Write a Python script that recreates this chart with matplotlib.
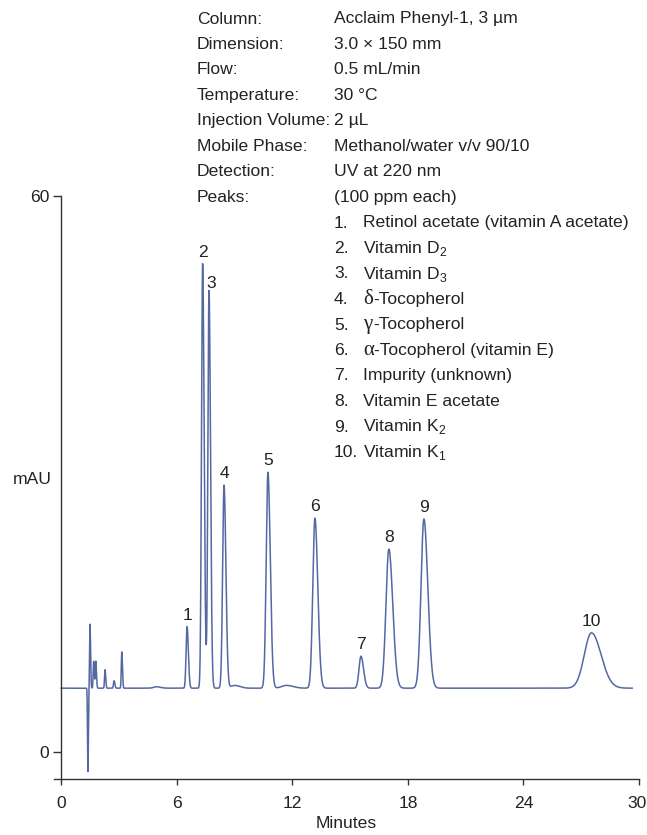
import numpy as np
import matplotlib
matplotlib.use('Agg')
import matplotlib.pyplot as plt
from matplotlib.transforms import ScaledTranslation

plt.rcParams['font.family'] = ['Liberation Sans Narrow', 'Liberation Sans', 'DejaVu Sans']
plt.rcParams['mathtext.fontset'] = 'custom'
plt.rcParams['mathtext.rm'] = 'Liberation Sans'

# method conditions
info_keys = ['Column:', 'Dimension:', 'Flow:', 'Temperature:', 'Injection Volume:',
             'Mobile Phase:', 'Detection:', 'Peaks:']
info_values = ['Acclaim Phenyl-1, 3 \u00b5m', '3.0 \u00d7 150 mm', '0.5 mL/min', '30 \u00b0C',
               '2 \u00b5L', 'Methanol/water v/v 90/10', 'UV at 220 nm', '(100 ppm each)']

# peak table: id, name, retention time (min), height above baseline (mAU), width (min)
peak_ids = ['1', '2', '3', '4', '5', '6', '7', '8', '9', '10']
peak_greek = ['', '', '', '\u03b4', '\u03b3', '\u03b1', '', '', '', '']
peak_names = ['Retinol acetate (vitamin A acetate)', 'Vitamin D$_\\mathregular{2}$',
              'Vitamin D$_\\mathregular{3}$', '-Tocopherol', '-Tocopherol',
              '-Tocopherol (vitamin E)', 'Impurity (unknown)', 'Vitamin E acetate',
              'Vitamin K$_\\mathregular{2}$', 'Vitamin K$_\\mathregular{1}$']
peak_times = [6.53, 7.34, 7.67, 8.45, 10.73, 13.17, 15.56, 17.01, 18.83, 27.53]
peak_heights = [6.65, 45.8, 42.9, 21.9, 23.3, 18.35, 3.45, 15.0, 18.25, 5.97]
peak_widths = [0.05, 0.058, 0.058, 0.072, 0.09, 0.11, 0.10, 0.15, 0.15, 0.37]

# injection upset, early solvent peaks and baseline bumps
minor_times = [1.38, 1.49, 1.68, 1.79, 2.27, 2.74, 3.14, 4.95, 9.0, 11.7]
minor_heights = [-9.0, 6.9, 2.9, 2.9, 2.0, 0.8, 3.9, 0.15, 0.3, 0.3]
minor_widths = [0.02, 0.022, 0.025, 0.025, 0.025, 0.03, 0.025, 0.15, 0.2, 0.25]

baseline = 6.9
run_end = 29.65
tailing = 1.35

t = np.arange(0, run_end, 0.002)
signal = np.full_like(t, baseline)
for tr, h, w in zip(peak_times + minor_times, peak_heights + minor_heights,
                    peak_widths + minor_widths):
    s = np.where(t < tr, w, w * tailing)
    signal += h * np.exp(-0.5 * ((t - tr) / s) ** 2)

W, H = 647, 835
fig = plt.figure(figsize=(W / 100, H / 100), dpi=100)
ax = fig.add_axes([53.6 / W, 56 / H, (639 - 53.6) / W, (779 - 196) / H])

line_color = '#5468a2'
ink = '#222222'
fs = 12.6
ax.plot(t, signal, color=line_color, lw=1.1)

ax.set_xlim(-0.4, 30)
ax.set_ylim(-2.9, 60)
ax.spines['top'].set_visible(False)
ax.spines['right'].set_visible(False)
ax.spines['left'].set_position(('data', 0))
for sp in ['left', 'bottom']:
    ax.spines[sp].set_color('#333333')
    ax.spines[sp].set_linewidth(1.0)
ax.set_xticks([0, 6, 12, 18, 24, 30])
ax.set_yticks([0, 60])
ax.tick_params(axis='x', length=4.5, width=1.0, color='#333333', labelsize=fs,
               labelcolor=ink, pad=8)
ax.tick_params(axis='y', length=5.5, width=1.0, color='#333333', labelsize=fs,
               labelcolor=ink, pad=3)
ax.set_xlabel('Minutes', fontsize=fs, color=ink, labelpad=3)
fig.text(32 / W, 1 - 480 / H, 'mAU', fontsize=fs, color=ink, ha='center', va='center')

# keep the last tick label inside the figure
last = ax.get_xticklabels()[-1]
last.set_ha('right')
last.set_transform(last.get_transform() + ScaledTranslation(0.08, 0, fig.dpi_scale_trans))

# peak numbers above each peak
label_dx = [0, 0, 1.5, 0, 0, 0, 0, 0, 0, 0]
label_dy = [5, 5, 2, 5, 5, 5, 5, 5, 5, 5]
for pid, tr, h, dx, dy in zip(peak_ids, peak_times, peak_heights, label_dx, label_dy):
    ax.annotate(pid, (tr, baseline + h), xytext=(dx, dy), textcoords='offset points',
                ha='center', va='baseline', fontsize=fs, color=ink)

# conditions block
def fx(px):
    return px / W

def fy(py):
    return 1 - py / H

row0 = 23.5
step = 25.5
for i, (k, v) in enumerate(zip(info_keys, info_values)):
    y = row0 + i * step
    fig.text(fx(197), fy(y), k, fontsize=fs, color=ink, va='baseline')
    fig.text(fx(334), fy(y), v, fontsize=fs, color=ink, va='baseline')

renderer = fig.canvas.get_renderer()
for i, (pid, g, name) in enumerate(zip(peak_ids, peak_greek, peak_names)):
    y = row0 + (len(info_keys) + i) * step
    fig.text(fx(334), fy(y), pid + '.', fontsize=fs, color=ink, va='baseline')
    x0 = 363
    if g:
        gt = fig.text(fx(x0), fy(y), g, fontsize=15, color=ink, va='baseline',
                      family=['Liberation Serif', 'DejaVu Serif'])
        x0 += gt.get_window_extent(renderer).width + 0.5
    fig.text(fx(x0), fy(y), name, fontsize=fs, color=ink, va='baseline')

fig.savefig('out.png', dpi=100)
